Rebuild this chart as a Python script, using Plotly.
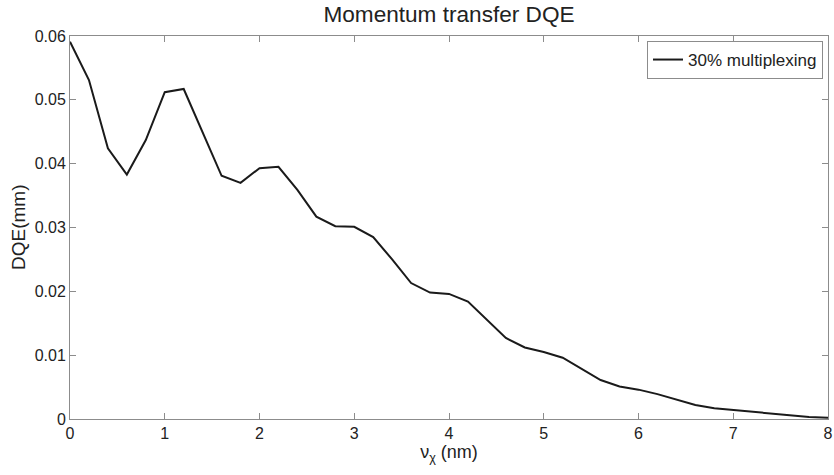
import plotly.graph_objects as go

x_vals = [0.0, 0.2, 0.4, 0.6, 0.8, 1.0, 1.2, 1.4, 1.6, 1.8, 2.0, 2.2, 2.4, 2.6, 2.8, 3.0,
          3.2, 3.4, 3.6, 3.8, 4.0, 4.2, 4.4, 4.6, 4.8, 5.0, 5.2, 5.4, 5.6, 5.8, 6.0,
          6.2, 6.4, 6.6, 6.8, 7.0, 7.2, 7.4, 7.6, 7.8, 8.0]
dqe_vals = [0.0591, 0.0531, 0.0424, 0.0383, 0.0437, 0.0512, 0.0517, 0.0449, 0.0381, 0.0370,
            0.0393, 0.0395, 0.0359, 0.0317, 0.0302, 0.0301, 0.0285, 0.0250, 0.0213, 0.0198,
            0.0196, 0.0184, 0.0156, 0.0127, 0.0112, 0.0105, 0.0096, 0.0078, 0.0061, 0.0051,
            0.0046, 0.0039, 0.0031, 0.0022, 0.0017, 0.0014, 0.0011, 0.0008, 0.0005, 0.0003,
            0.0002]
x_ticks = [0, 1, 2, 3, 4, 5, 6, 7, 8]
y_ticks = [0, 0.01, 0.02, 0.03, 0.04, 0.05, 0.06]
y_tick_text = ["0", "0.01", "0.02", "0.03", "0.04", "0.05", "0.06"]

font_family = "Liberation Sans, Arial, sans-serif"

fig_w, fig_h = 834, 475
m_l, m_r, m_t, m_b = 70, 6, 36, 55.5
plot_w = fig_w - m_l - m_r
plot_h = fig_h - m_t - m_b

fig = go.Figure()
fig.add_trace(go.Scatter(x=x_vals, y=dqe_vals, mode="lines", name="30% multiplexing",
                         line=dict(color="#1a1a1a", width=2)))

axis_common = dict(showgrid=False, zeroline=False, showline=True, linecolor="#8c8c8c",
                   linewidth=1, mirror="ticks", ticks="inside", ticklen=6,
                   tickcolor="#8c8c8c", automargin=False, ticklabeloverflow="allow",
                   tickfont=dict(family=font_family, size=16, color="#222"))

fig.update_layout(
    template="none",
    width=fig_w, height=fig_h,
    margin=dict(l=m_l, r=m_r, t=m_t, b=m_b, pad=0),
    paper_bgcolor="white", plot_bgcolor="white",
    title=dict(text="Momentum transfer DQE", x=449 / fig_w, xanchor="center",
               y=1 - 14 / fig_h, yanchor="middle",
               font=dict(family=font_family, size=22.6, color="#222")),
    xaxis=dict(range=[0, 8], tickvals=x_ticks,
               title=dict(text="ν<sub>χ</sub> (nm)", standoff=0,
                          font=dict(family=font_family, size=18, color="#222")),
               **axis_common),
    yaxis=dict(range=[0, 0.06], tickvals=y_ticks, ticktext=y_tick_text,
               **axis_common),
    annotations=[dict(text="DQE(mm)", textangle=-90, xref="paper", yref="paper",
                      x=(18.5 - m_l) / plot_w, y=0.5, xanchor="center", yanchor="middle",
                      showarrow=False,
                      font=dict(family=font_family, size=19, color="#222"))],
    showlegend=True,
    legend=dict(x=1 - 5 / plot_w, y=1 - 5 / plot_h, xanchor="right", yanchor="top",
                bgcolor="white", bordercolor="#8c8c8c", borderwidth=1,
                font=dict(family=font_family, size=17, color="#222"),
                itemwidth=30, tracegroupgap=0),
)

fig.write_html("out.html", config={"displayModeBar": False},
               post_script="document.body.style.margin='0px';document.body.style.overflow='hidden';")
